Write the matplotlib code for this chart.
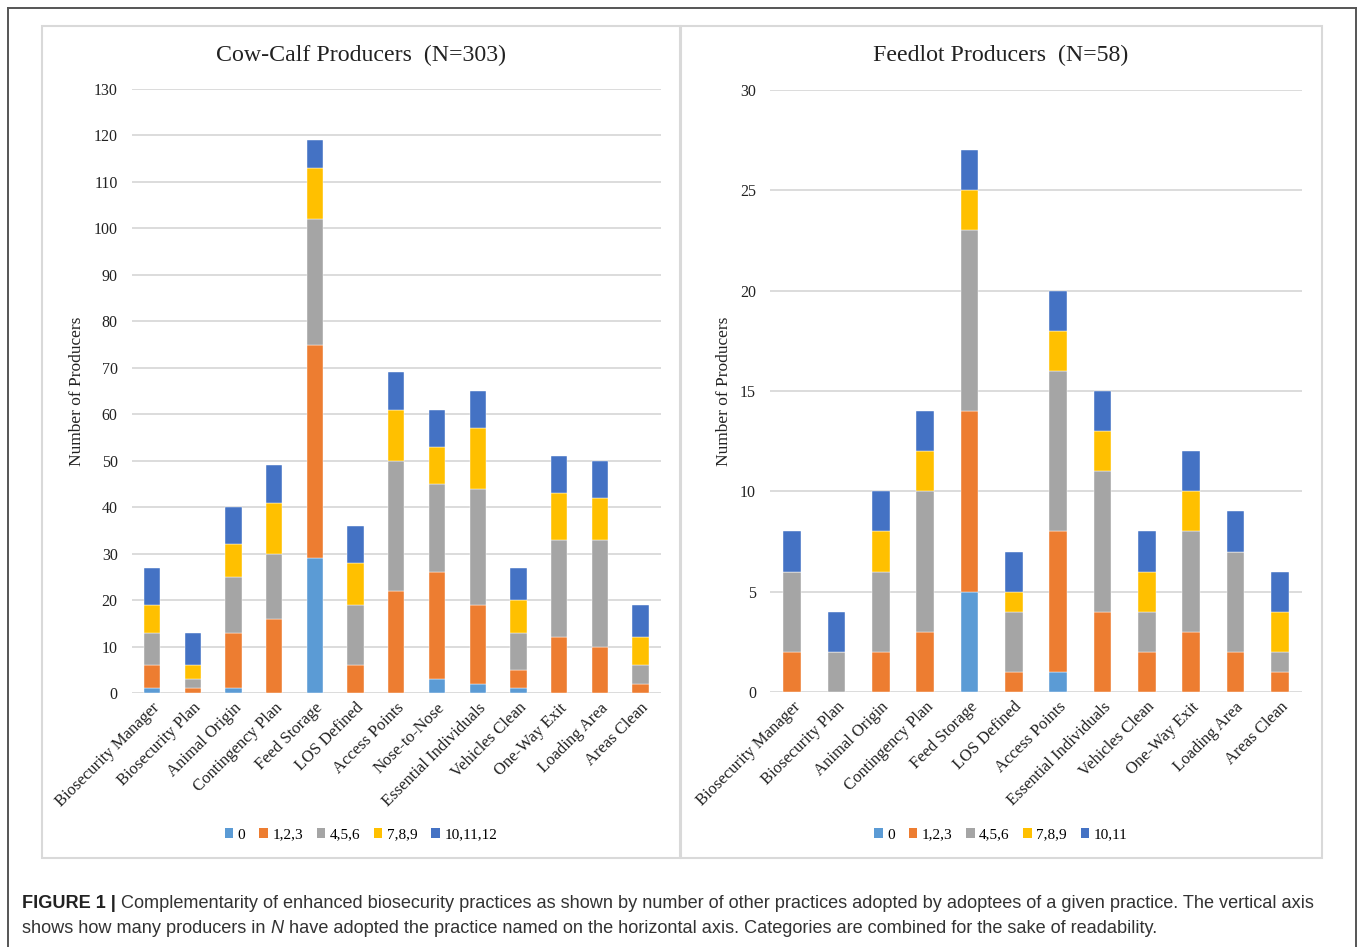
import matplotlib
matplotlib.use("Agg")
import matplotlib.pyplot as plt
from matplotlib.patches import Rectangle, Patch
import numpy as np

# ---------------- data ----------------
cow_categories = ["Biosecurity Manager", "Biosecurity Plan", "Animal Origin", "Contingency Plan",
                  "Feed Storage", "LOS Defined", "Access Points", "Nose-to-Nose",
                  "Essential Individuals", "Vehicles Clean", "One-Way Exit", "Loading Area", "Areas Clean"]
cow_0 =        [1, 0, 1, 0, 29, 0, 0, 3, 2, 1, 0, 0, 0]
cow_123 =      [5, 1, 12, 16, 46, 6, 22, 23, 17, 4, 12, 10, 2]
cow_456 =      [7, 2, 12, 14, 27, 13, 28, 19, 25, 8, 21, 23, 4]
cow_789 =      [6, 3, 7, 11, 11, 9, 11, 8, 13, 7, 10, 9, 6]
cow_101112 =   [8, 7, 8, 8, 6, 8, 8, 8, 8, 7, 8, 8, 7]
cow_legend = ["0", "1,2,3", "4,5,6", "7,8,9", "10,11,12"]

feed_categories = ["Biosecurity Manager", "Biosecurity Plan", "Animal Origin", "Contingency Plan",
                   "Feed Storage", "LOS Defined", "Access Points", "Essential Individuals",
                   "Vehicles Clean", "One-Way Exit", "Loading Area", "Areas Clean"]
feed_0 =     [0, 0, 0, 0, 5, 0, 1, 0, 0, 0, 0, 0]
feed_123 =   [2, 0, 2, 3, 9, 1, 7, 4, 2, 3, 2, 1]
feed_456 =   [4, 2, 4, 7, 9, 3, 8, 7, 2, 5, 5, 1]
feed_789 =   [0, 0, 2, 2, 2, 1, 2, 2, 2, 2, 0, 2]
feed_1011 =  [2, 2, 2, 2, 2, 2, 2, 2, 2, 2, 2, 2]
feed_legend = ["0", "1,2,3", "4,5,6", "7,8,9", "10,11"]

colors = ["#5B9BD5", "#ED7D31", "#A5A5A5", "#FFC000", "#4472C4"]

SERIF = ["Liberation Serif", "DejaVu Serif"]
SANS = ["Liberation Sans", "DejaVu Sans"]

W, H = 1360, 947
fig = plt.figure(figsize=(W / 100, H / 100), dpi=100)


def fx(px):
    return px / W


def fy(py):
    return 1 - py / H


def draw(ax, cats, series, labels, ymax, ystep, title, panel_cx):
    x = np.arange(len(cats))
    bottom = np.zeros(len(cats))
    for vals, col in zip(series, colors):
        vals = np.array(vals, dtype=float)
        ax.bar(x, vals, bottom=bottom, width=0.4, color=col, edgecolor="white",
               linewidth=0.3, zorder=3)
        bottom += vals
    ax.set_xlim(-0.5, len(cats) - 0.5)
    ax.set_ylim(0, ymax)
    ax.set_yticks(np.arange(0, ymax + 0.1, ystep))
    ax.yaxis.grid(True, color="#D9D9D9", linewidth=1.3, zorder=0)
    ax.set_axisbelow(True)
    for s in ax.spines.values():
        s.set_visible(False)
    ax.tick_params(length=0)
    ax.tick_params(axis="y", pad=10)
    ax.tick_params(axis="x", pad=5)
    ax.set_xticks(x)
    ax.set_xticklabels(cats, rotation=45, ha="right", rotation_mode="anchor",
                       family=SERIF, fontsize=12, color="#222222")
    for t in ax.get_yticklabels():
        t.set_family(SERIF)
        t.set_fontsize(11.5)
        t.set_color("#222222")
    ax.set_ylabel("Number of Producers", family=SERIF, fontsize=12.5, color="#222222", labelpad=6)
    fig.text(fx(panel_cx), fy(55), title, family=SERIF, fontsize=17.2, color="#222222",
             ha="center", va="center")
    handles = [Patch(facecolor=c, edgecolor="none") for c in colors]
    fig.legend(handles, labels, loc="center", bbox_to_anchor=(fx(panel_cx), fy(835)),
               ncol=5, frameon=False, prop={"family": SERIF, "size": 11},
               handlelength=0.55, handleheight=0.55, handletextpad=0.3, columnspacing=0.9)


ax1 = fig.add_axes([fx(131.6), fy(693), fx(661) - fx(131.6), fy(89) - fy(693)])
draw(ax1, cow_categories, [cow_0, cow_123, cow_456, cow_789, cow_101112], cow_legend,
     130, 10, "Cow-Calf Producers  (N=303)", 361)

ax2 = fig.add_axes([fx(770), fy(692), fx(1302) - fx(770), fy(90) - fy(692)])
draw(ax2, feed_categories, [feed_0, feed_123, feed_456, feed_789, feed_1011], feed_legend,
     30, 5, "Feedlot Producers  (N=58)", 1001)

# panel borders
for (x0, x1) in [(42, 680), (681, 1322)]:
    fig.patches.append(Rectangle((fx(x0), fy(858)), fx(x1) - fx(x0), fy(26) - fy(858),
                                 transform=fig.transFigure, fill=False,
                                 edgecolor="#D9D9D9", linewidth=1.5, zorder=0))
# outer frame
fig.add_artist(plt.Line2D([fx(8), fx(8)], [fy(8), 0], transform=fig.transFigure,
                          color="#555555", linewidth=1.4))
fig.add_artist(plt.Line2D([fx(8), fx(1356)], [fy(8), fy(8)], transform=fig.transFigure,
                          color="#555555", linewidth=1.4))
fig.add_artist(plt.Line2D([fx(1356), fx(1356)], [fy(8), 0], transform=fig.transFigure,
                          color="#555555", linewidth=1.4))

# caption
CS = 13.1
cap1 = ("Complementarity of enhanced biosecurity practices as shown by number of other practices "
        "adopted by adoptees of a given practice. The vertical axis")
t0 = fig.text(fx(22), fy(903), "FIGURE 1 | ", family=SANS, fontsize=CS, weight="bold",
              color="#222222", va="center")
fig.canvas.draw()
bb = t0.get_window_extent()
fig.text(bb.x1 / W, fy(903), cap1, family=SANS, fontsize=CS, color="#333333", va="center")
t2 = fig.text(fx(22), fy(928), "shows how many producers in ", family=SANS, fontsize=CS,
              color="#333333", va="center")
fig.canvas.draw()
bb2 = t2.get_window_extent()
t3 = fig.text(bb2.x1 / W, fy(928), "N", family=SANS, fontsize=CS, color="#333333",
              va="center", style="italic")
fig.canvas.draw()
bb3 = t3.get_window_extent()
fig.text(bb3.x1 / W, fy(928), " have adopted the practice named on the horizontal axis. "
         "Categories are combined for the sake of readability.", family=SANS, fontsize=CS,
         color="#333333", va="center")

fig.savefig("out.png", dpi=100, facecolor="white")
